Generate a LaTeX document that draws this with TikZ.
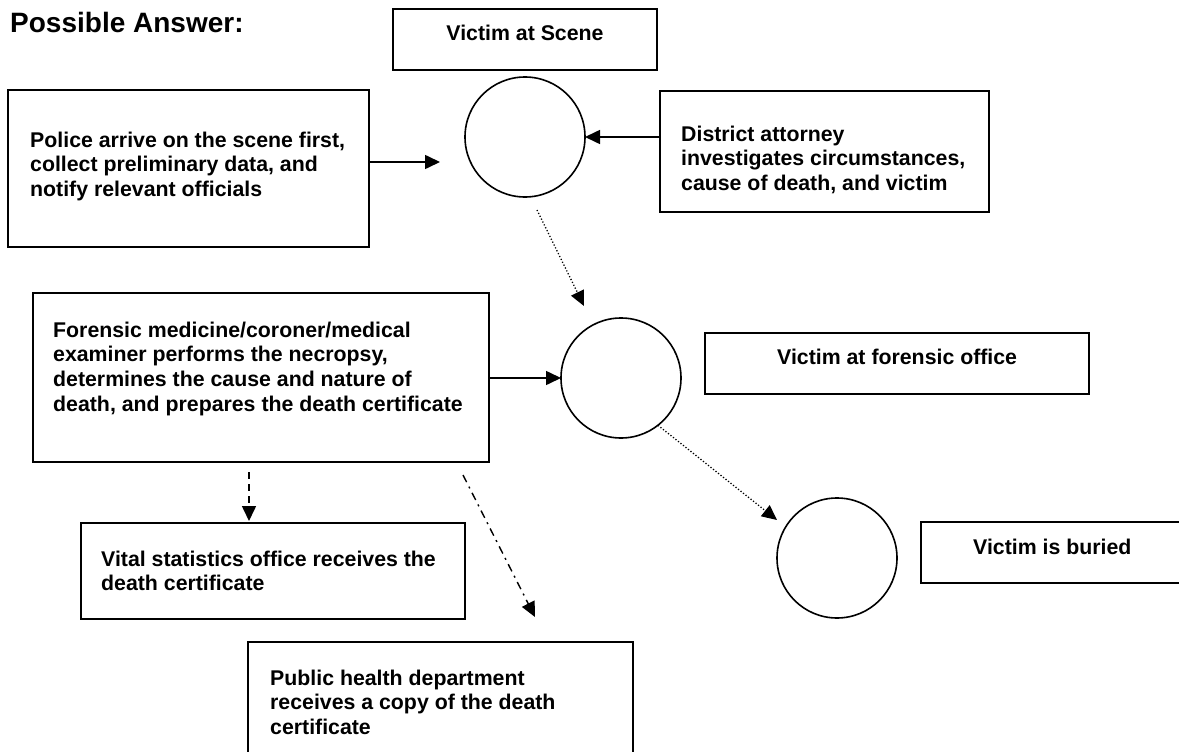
\documentclass[tikz,border=0pt]{standalone}
\usepackage{fontspec}
\setmainfont{Liberation Sans}
\usetikzlibrary{arrows.meta}
\begin{document}
\begin{tikzpicture}[x=1pt,y=-1pt,
  box/.style={draw, line width=1.6pt, rectangle, anchor=north west, inner sep=0pt, outer sep=0pt},
  circ/.style={draw, line width=1.6pt, circle, minimum size=120pt, inner sep=0pt, outer sep=0pt},
  txt/.style={font=\fontsize{21.3}{24.8}\selectfont\bfseries, inner sep=0pt, anchor=base west},
  tip/.style={-{Triangle[length=15pt,width=14pt]}},
  arr/.style={line width=1.6pt, tip},
  dotarr/.style={line width=1.3pt, dash pattern=on 1.2pt off 2pt, tip},
  dasharr/.style={line width=1.6pt, dash pattern=on 7pt off 5pt, tip},
  dasharrdot/.style={line width=1.4pt, dash pattern=on 8pt off 5pt on 2pt off 5pt, tip}
]
\clip (0,0) rectangle (1179,752);
\fill[white] (0,0) rectangle (1179,752);

% title
\node[inner sep=0pt, anchor=base west, font=\fontsize{28}{33}\selectfont\bfseries] (title) at (10,33) {Possible Answer:};

% boxes
\node[box, minimum width=264pt, minimum height=61pt] (scene) at (393,9) {};
\node[box, minimum width=361pt, minimum height=157pt] (police) at (8,90) {};
\node[box, minimum width=329pt, minimum height=121pt] (da) at (660,91) {};
\node[box, minimum width=456pt, minimum height=169pt] (foren) at (33,293) {};
\node[box, minimum width=384pt, minimum height=61pt] (office) at (705,333) {};
\node[box, minimum width=262pt, minimum height=61pt] (buried) at (921,522) {};
\node[box, minimum width=384pt, minimum height=96pt] (vital) at (81,523) {};
\node[box, minimum width=385pt, minimum height=140pt] (public) at (248,642) {};

% circles
\node[circ] (c1) at (525,137) {};
\node[circ] (c2) at (621,378) {};
\node[circ] (c3) at (837,558) {};

% texts
\node[txt, anchor=base] (scenet) at (525,41) {Victim at Scene};
\node[txt] (policet) at (30,147) {\vtop{\hbox{Police arrive on the scene first,}\hbox{collect preliminary data, and}\hbox{notify relevant officials}}};
\node[txt] (dat) at (681,141) {\vtop{\hbox{District attorney}\hbox{investigates circumstances,}\hbox{cause of death, and victim}}};
\node[txt] (forent) at (53,337) {\vtop{\hbox{Forensic medicine/coroner/medical}\hbox{examiner performs the necropsy,}\hbox{determines the cause and nature of}\hbox{death, and prepares the death certificate}}};
\node[txt] (officet) at (777,364) {Victim at forensic office};
\node[txt] (buriedt) at (973,554) {Victim is buried};
\node[txt] (vitalt) at (101,566) {\vtop{\hbox{Vital statistics office receives the}\hbox{death certificate}}};
\node[txt] (publict) at (270,685) {\vtop{\hbox{Public health department}\hbox{receives a copy of the death}\hbox{certificate}}};

% free ends
\coordinate (p1) at (440,162);
\coordinate (d1s) at (537,210);
\coordinate (d1e) at (584,306);
\coordinate (d2e) at (777,520);
\coordinate (v1s) at (249,472);
\coordinate (v1e) at (249,521);
\coordinate (h1s) at (463,475);
\coordinate (h1e) at (535,617);

% connectors
\draw[arr] (police.east |- p1) -- (p1);
\draw[arr] (da.west |- c1) -- (c1.east);
\draw[dotarr] (d1s) -- (d1e);
\draw[arr] (foren.east |- c2) -- (c2.west);
\draw[dotarr] (c2.-52) -- (d2e);
\draw[dasharr] (v1s) -- (v1e);
\draw[dasharrdot] (h1s) -- (h1e);
\end{tikzpicture}
\end{document}
